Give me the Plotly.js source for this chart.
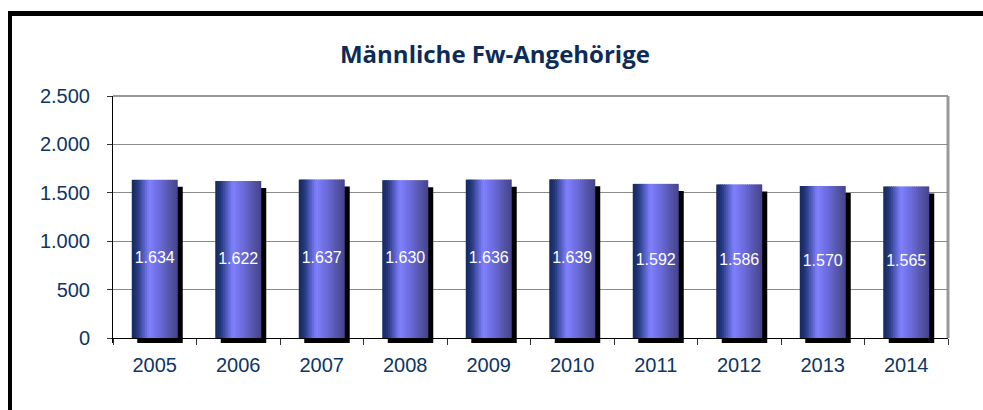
<!DOCTYPE html>
<html>
<head>
<meta charset="utf-8">
<script src="https://cdn.plot.ly/plotly-3.0.1.min.js"></script>
<style>
  html, body { margin:0; padding:0; background:#fff; overflow:hidden; }
  #chart { position:absolute; left:0; top:0; width:983px; height:410px; }
  #frame { position:absolute; left:8px; top:11px; width:2000px; height:2000px;
           border-left:4px solid #000; border-top:5px solid #000; pointer-events:none; }
</style>
</head>
<body>
<div id="chart"></div>
<div id="frame"></div>
<script>
// ---- data ----
const years  = ['2005','2006','2007','2008','2009','2010','2011','2012','2013','2014'];
const values = [1634, 1622, 1637, 1630, 1636, 1639, 1592, 1586, 1570, 1565];
const yTicks = [0, 500, 1000, 1500, 2000, 2500];
const titleText = 'Männliche Fw-Angehörige';

// ---- geometry / style ----
const W = 983, H = 410;
const M = {l:113, r:35, t:96, b:67};
const plotH = H - M.t - M.b;            // px
const axisGapPx = 5;                    // axis line above bottom of plot area
const yMax = 2500;
const unitsPerPx = yMax / (plotH - axisGapPx);
const yMin = -axisGapPx * unitsPerPx;
const catPx = (W - M.l - M.r) / years.length;
const barW = 46 / catPx;
const shadowDx = 5.5 / catPx;
const shadowDyUnits = 7 * unitsPerPx;

const stops = [
  [0.00, [22, 40, 92]],
  [0.12, [35, 55, 125]],
  [0.38, [128, 128, 255]],
  [0.60, [108, 108, 220]],
  [0.85, [82, 82, 165]],
  [1.00, [68, 68, 140]]
];
function gradColor(t){
  for (let i=0;i<stops.length-1;i++){
    const a=stops[i], b=stops[i+1];
    if (t>=a[0] && t<=b[0]){
      const f=(t-a[0])/(b[0]-a[0]);
      const c=a[1].map((v,k)=>Math.round(v+(b[1][k]-v)*f));
      return 'rgb('+c.join(',')+')';
    }
  }
  return 'rgb(68,68,140)';
}

const traces = [];
// shadow
traces.push({
  type:'bar', x:years, y:values.map(v=>v - shadowDyUnits - yMin), base:yMin,
  offset:-barW/2 + shadowDx, width:barW - 0.5/catPx,
  marker:{color:'#000', line:{width:0}}, hoverinfo:'skip', showlegend:false
});
// gradient stripes
const N = 24;
const sw = barW / N;
for (let i=0;i<N;i++){
  traces.push({
    type:'bar', x:years, y:values, base:0,
    offset:-barW/2 + i*sw, width: (i===N-1 ? sw : sw*1.6),
    marker:{color:gradColor((i+0.5)/N), line:{width:0}},
    hoverinfo:'skip', showlegend:false
  });
}
// value labels
traces.push({
  type:'scatter', mode:'text', x:years, y:values.map(v=>v/2),
  text:values.map(v=>v.toLocaleString('de-DE')),
  textposition:'middle center',
  textfont:{family:'Liberation Sans, Arial, sans-serif', size:16, color:'#fff'},
  hoverinfo:'skip', showlegend:false
});

const layout = {
  width:W, height:H, margin:M,
  paper_bgcolor:'#fff', plot_bgcolor:'#fff',
  separators:',.',
  barmode:'overlay', showlegend:false,
  title:{text:'<b>'+titleText+'</b>', x:0.5035, xanchor:'center', y:1-55/H, yanchor:'middle',
         font:{family:'Open Sans, sans-serif', size:24, color:'#0d2b57'}},
  xaxis:{
    type:'category', categoryorder:'array', categoryarray:years,
    anchor:'free', position: axisGapPx/plotH,
    range:[-0.5, years.length-0.5],
    showline:true, linecolor:'#000', linewidth:1,
    ticks:'outside', tickson:'boundaries', ticklen:6, tickcolor:'#333',
    showgrid:false, zeroline:false,
    tickfont:{family:'Liberation Sans, Arial, sans-serif', size:20, color:'#0d3566'},
    ticklabelstandoff:9
  },
  yaxis:{
    range:[yMin, yMax], tickvals:yTicks, tickformat:',d',
    showline:true, linecolor:'#000', linewidth:1,
    ticks:'outside', ticklen:5, tickcolor:'#333',
    showgrid:true, gridcolor:'#8a8a8a', gridwidth:1, zeroline:false,
    tickfont:{family:'Liberation Sans, Arial, sans-serif', size:20, color:'#0d3566'},
    ticklabelstandoff:13
  },
  shapes:[
    {type:'line', xref:'paper', yref:'paper', x0:0, x1:1, y0:1, y1:1, line:{color:'#999', width:2}, layer:'below'},
    {type:'line', xref:'paper', yref:'paper', x0:1, x1:1, y0:axisGapPx/plotH, y1:1, line:{color:'#999', width:3}, layer:'below'}
  ]
};

Plotly.newPlot('chart', traces, layout, {displayModeBar:false, staticPlot:true});
</script>
</body>
</html>
